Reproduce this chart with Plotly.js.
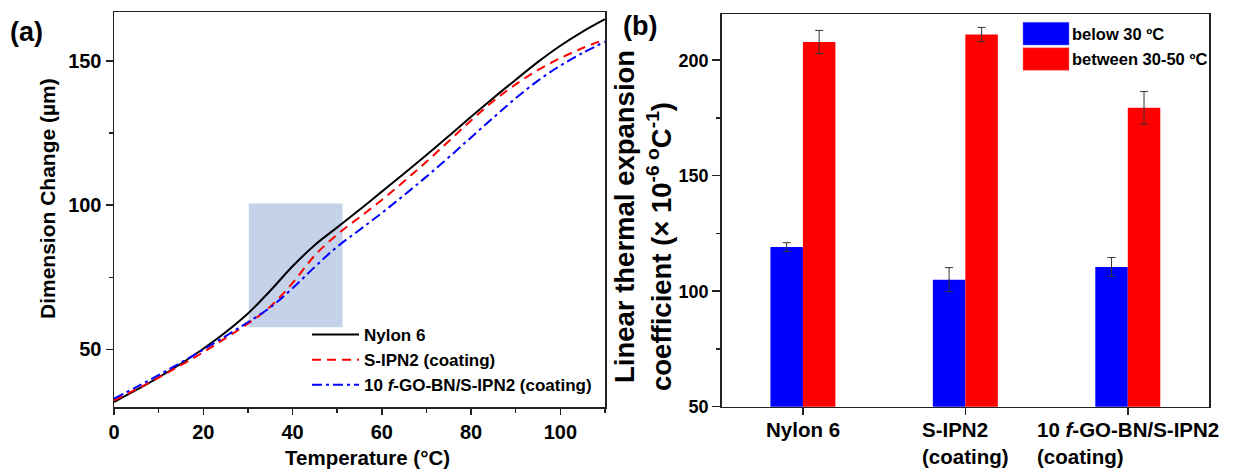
<!DOCTYPE html>
<html>
<head>
<meta charset="utf-8">
<script src="https://cdn.plot.ly/plotly-3.0.1.min.js"></script>
<style>html,body{margin:0;padding:0;background:#fff;}#chart{width:1233px;height:470px;}</style>
</head>
<body>
<div id="chart"></div>
<script>
// ---------- Panel (a) data ----------
const temperature = [0, 5, 10, 15, 20, 25, 30, 35, 40, 45, 50, 55, 60, 65, 70, 75, 80, 85, 90, 95, 100, 105, 110];
const nylon6 = [31.7, 35.9, 40.3, 45.0, 50.2, 55.9, 62.4, 70.3, 78.8, 86.2, 92.3, 98.4, 104.7, 111.0, 117.4, 124.0, 130.7, 137.2, 143.5, 149.7, 155.3, 160.2, 164.5];
const sipn2 =  [32.3, 36.1, 40.2, 44.5, 49.0, 53.9, 58.9, 64.8, 73.0, 82.6, 89.8, 95.8, 101.8, 108.3, 115.1, 122.2, 129.4, 136.1, 141.9, 146.9, 151.0, 154.5, 157.5];
const fgobn =  [32.9, 36.9, 41.1, 45.4, 49.9, 54.6, 59.4, 64.5, 71.2, 78.6, 85.6, 91.4, 97.3, 103.5, 109.9, 116.6, 123.5, 130.4, 137.1, 143.2, 148.4, 152.8, 156.7];
const lineNames = ["Nylon 6", "S-IPN2 (coating)", "10 <i>f</i>-GO-BN/S-IPN2 (coating)"];
const xTitleA = "Temperature (°C)";
const yTitleA = "Dimension Change (µm)";

// ---------- Panel (b) data ----------
const categories = ["Nylon 6", "S-IPN2<br>(coating)", "10 <i>f</i>-GO-BN/S-IPN2<br>(coating)"];
const below30 =     [119.1, 105.0, 110.5];
const below30Err =  [1.9, 5.2, 4.1];
const between3050 = [207.9, 211.1, 179.4];
const between3050Err = [5.0, 3.1, 7.0];
const barNames = ["below 30 ºC", "between 30-50 ºC"];
const yTitleB = ["Linear thermal expansion", "coefficient (× 10<sup>-6 o</sup>C<sup>-1</sup>)"];

const W = 1233, H = 470;
const px = v => v / W;
const py = v => 1 - v / H;
const FONT = '"Liberation Sans", Arial, sans-serif';
const bold = (size) => ({family: FONT, size: size, color: '#000', weight: 'bold'});
const catIdx = categories.map((c, i) => i);

const traces = [
  {x: temperature, y: nylon6, name: lineNames[0], type: 'scatter', mode: 'lines',
   line: {color: '#000000', width: 2, shape: 'spline', smoothing: 1}, xaxis: 'x', yaxis: 'y'},
  {x: temperature, y: sipn2, name: lineNames[1], type: 'scatter', mode: 'lines',
   line: {color: '#ff0000', width: 2, dash: '9px,6px', shape: 'spline', smoothing: 1}, xaxis: 'x', yaxis: 'y'},
  {x: temperature, y: fgobn, name: lineNames[2], type: 'scatter', mode: 'lines',
   line: {color: '#0000ff', width: 2, dash: '10px,4px,3px,4px', shape: 'spline', smoothing: 1}, xaxis: 'x', yaxis: 'y'},
  {x: catIdx, y: below30, name: barNames[0], type: 'bar', marker: {color: '#0000ff'},
   error_y: {type: 'data', array: below30Err, color: '#333', thickness: 1, width: 4},
   xaxis: 'x2', yaxis: 'y2', showlegend: false},
  {x: catIdx, y: between3050, name: barNames[1], type: 'bar', marker: {color: '#ff0000'},
   error_y: {type: 'data', array: between3050Err, color: '#333', thickness: 1, width: 4},
   xaxis: 'x2', yaxis: 'y2', showlegend: false}
];

const axisCommon = {
  showline: true, mirror: true, linecolor: '#222', linewidth: 1.5,
  showgrid: false, zeroline: false, ticks: 'outside', tickcolor: '#222', tickwidth: 1.5,
  tickfont: bold(20)
};

const ann = (text, x, y, size, extra) => Object.assign({
  text: text, xref: 'paper', yref: 'paper', x: px(x), y: py(y),
  xanchor: 'center', yanchor: 'middle', showarrow: false, font: bold(size)
}, extra || {});

const annotations = [
  ann('(a)', 26, 32, 27),
  ann('(b)', 640, 26, 27),
  ann(xTitleA, 367, 457, 20.5),
  ann(yTitleA, 47, 199, 21, {textangle: -90}),
  ann(yTitleB[0], 624, 217, 27.5, {textangle: -90}),
  ann(yTitleB[1], 659, 247, 27.5, {textangle: -90})
];
categories.forEach((c, i) => annotations.push({
  text: c, xref: 'x2', yref: 'paper', x: i, y: py(407), yanchor: 'top', yshift: -9,
  xanchor: 'center', align: 'left', showarrow: false, font: bold(20.5)
}));
barNames.forEach((n, i) => annotations.push(ann(n, 1070, [33.7, 59][i], 16.5, {xanchor: 'left'})));

const shapes = [
  {type: 'rect', xref: 'x', yref: 'y', x0: 30.2, x1: 51.2, y0: 57.7, y1: 100.6,
   fillcolor: '#c5d3ea', line: {width: 0}, layer: 'below'},
  {type: 'rect', xref: 'paper', yref: 'paper', x0: px(1023), x1: px(1069), y0: py(45), y1: py(22.3),
   fillcolor: '#0000ff', line: {width: 0.5, color: '#6f6fff'}},
  {type: 'rect', xref: 'paper', yref: 'paper', x0: px(1023), x1: px(1069), y0: py(70.3), y1: py(47.7),
   fillcolor: '#ff0000', line: {width: 0.5, color: '#ff7070'}}
];

const layout = {
  width: W, height: H,
  margin: {l: 0, r: 0, t: 0, b: 0},
  paper_bgcolor: '#fff', plot_bgcolor: '#fff',
  font: {family: FONT, color: '#000', weight: 'bold'},
  showlegend: true,
  legend: {x: px(307), y: py(317), xanchor: 'left', yanchor: 'top', bgcolor: 'rgba(0,0,0,0)',
           font: bold(17), itemwidth: 47, tracegroupgap: 0},
  barmode: 'group', bargap: 0.6, bargroupgap: 0,
  xaxis: Object.assign({}, axisCommon, {
    domain: [px(114), px(605)], anchor: 'y', range: [0, 110], tickvals: [0, 20, 40, 60, 80, 100], ticklen: 6,
    minor: {tickvals: [10, 30, 50, 70, 90, 110], ticks: 'outside', ticklen: 4, tickcolor: '#222', tickwidth: 1.5}
  }),
  yaxis: Object.assign({}, axisCommon, {
    domain: [py(407), py(12)], anchor: 'x', range: [30, 167], tickvals: [50, 100, 150], ticklen: 7,
    minor: {tickvals: [75, 125], ticks: 'outside', ticklen: 4, tickcolor: '#222', tickwidth: 1.5}
  }),
  xaxis2: Object.assign({}, axisCommon, {
    domain: [px(721.7), px(1209)], anchor: 'y2', range: [-0.5, 2.5], tickvals: catIdx, ticklen: 7,
    showticklabels: false
  }),
  yaxis2: Object.assign({}, axisCommon, {
    domain: [py(406.7), py(14)], anchor: 'x2', range: [50, 220], tickvals: [50, 100, 150, 200], ticklen: 8,
    tickfont: bold(18),
    minor: {tickvals: [75, 125, 175], ticks: 'outside', ticklen: 4, tickcolor: '#222', tickwidth: 1.5}
  }),
  annotations: annotations,
  shapes: shapes
};

Plotly.newPlot('chart', traces, layout, {staticPlot: true, displayModeBar: false});
</script>
</body>
</html>
